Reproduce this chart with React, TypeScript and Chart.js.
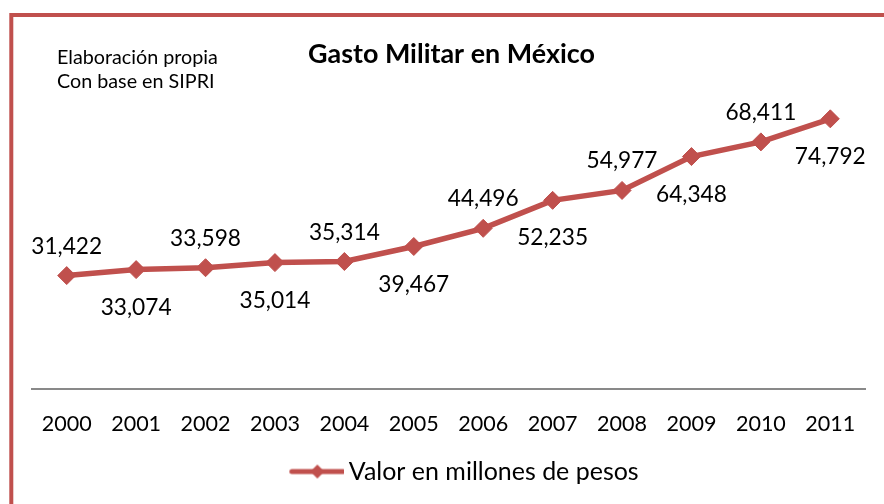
import React, { useEffect, useRef } from 'react';
import { Chart, registerables } from 'chart.js';

Chart.register(...registerables);

// ---- data ----
const years: string[] = ['2000', '2001', '2002', '2003', '2004', '2005', '2006', '2007', '2008', '2009', '2010', '2011'];
const values: number[] = [31422, 33074, 33598, 35014, 35314, 39467, 44496, 52235, 54977, 64348, 68411, 74792];
const seriesLabel = 'Valor en millones de pesos';
const chartTitle = 'Gasto Militar en México';
const noteLines: string[] = ['Elaboración propia', 'Con base en SIPRI'];
const yMin = 0;
const yMax = 80000;

const RED = '#c0504d';
const FONT = 'Lato';

function fitSize(text: string, weight: string, target: number): number {
  const c = document.createElement('canvas').getContext('2d') as CanvasRenderingContext2D;
  c.font = `${weight} 100px ${FONT}`;
  return (100 * target) / c.measureText(text).width;
}

const fmt = (v: number) => v.toLocaleString('en-US');

export default function App() {
  const ref = useRef<HTMLCanvasElement | null>(null);

  useEffect(() => {
    document.body.style.margin = '0';
    const canvas = ref.current;
    if (!canvas) return;

    const labelSize = fitSize('31,422', 'normal', 71);
    const tickSize = fitSize('2000', 'normal', 50);
    const legendSize = fitSize(seriesLabel, 'normal', 290);
    const titleSize = fitSize(chartTitle, 'bold', 287);
    const noteSize = fitSize(noteLines[0], 'normal', 161);

    // legend symbol: line with diamond, drawn in right part of a wider transparent image
    const img = document.createElement('canvas');
    img.width = 94;
    img.height = 18;
    const g = img.getContext('2d') as CanvasRenderingContext2D;
    const x0 = 39;
    g.strokeStyle = RED;
    g.lineWidth = 5;
    g.lineCap = 'round';
    g.beginPath();
    g.moveTo(x0 + 2.5, 9);
    g.lineTo(x0 + 53.5, 9);
    g.stroke();
    g.fillStyle = RED;
    g.beginPath();
    g.moveTo(x0 + 28, 2);
    g.lineTo(x0 + 35, 9);
    g.lineTo(x0 + 28, 16);
    g.lineTo(x0 + 21, 9);
    g.closePath();
    g.fill();

    const decor = {
      id: 'decor',
      beforeDraw(chart: any) {
        const ctx = chart.ctx as CanvasRenderingContext2D;
        ctx.save();
        ctx.fillStyle = '#ffffff';
        ctx.fillRect(0, 0, chart.width, chart.height);
        ctx.strokeStyle = RED;
        ctx.lineWidth = 4;
        ctx.strokeRect(11.3, 15, 1000, 1000);
        ctx.fillStyle = '#000000';
        ctx.textAlign = 'center';
        ctx.textBaseline = 'alphabetic';
        ctx.font = `bold ${titleSize}px ${FONT}`;
        ctx.fillText(chartTitle, 451.5, 62.5);
        ctx.textAlign = 'left';
        ctx.font = `normal ${noteSize}px ${FONT}`;
        ctx.fillText(noteLines[0], 57, 63.5);
        ctx.fillText(noteLines[1], 57, 87.5);
        ctx.restore();
      },
    };

    const dataLabels = {
      id: 'dataLabels',
      afterDatasetsDraw(chart: any) {
        const ctx = chart.ctx as CanvasRenderingContext2D;
        const meta = chart.getDatasetMeta(0);
        ctx.save();
        ctx.fillStyle = '#000000';
        ctx.textAlign = 'center';
        ctx.textBaseline = 'alphabetic';
        ctx.font = `normal ${labelSize}px ${FONT}`;
        meta.data.forEach((pt: any, i: number) => {
          const above = i % 2 === 0;
          ctx.fillText(fmt(values[i]), pt.x, pt.y + (above ? -22 : 45));
        });
        ctx.restore();
      },
    };

    const chart = new Chart(canvas, {
      type: 'line',
      data: {
        labels: years,
        datasets: [
          {
            label: seriesLabel,
            data: values,
            borderColor: RED,
            backgroundColor: RED,
            borderWidth: 5.5,
            pointStyle: 'rectRot',
            pointRadius: 9,
            pointHoverRadius: 9,
            pointBorderWidth: 1,
            pointBackgroundColor: RED,
            pointBorderColor: RED,
            tension: 0,
          },
        ],
      },
      options: {
        animation: false,
        responsive: false,
        events: [],
        layout: { padding: { left: 32, right: 19, top: 100, bottom: 10 } },
        scales: {
          x: {
            offset: true,
            grid: { display: true, drawOnChartArea: false, drawTicks: false },
            border: { display: true, color: '#898989', width: 2 },
            ticks: {
              color: '#000000',
              font: { family: FONT, size: tickSize },
              padding: 22,
              maxRotation: 0,
              autoSkip: false,
            },
            afterFit(scale: any) {
              scale.height -= 10;
            },
          },
          y: { display: false, min: yMin, max: yMax },
        },
        plugins: {
          legend: {
            position: 'bottom',
            labels: {
              usePointStyle: true,
              pointStyle: img as any,
              pointStyleWidth: 78,
              color: '#000000',
              font: { family: FONT, size: legendSize },
              padding: 10,
            },
          },
          title: { display: false },
          tooltip: { enabled: false },
        },
      },
      plugins: [decor, dataLabels],
    });

    return () => chart.destroy();
  }, []);

  return (
    <div style={{ width: 884, height: 504 }}>
      <canvas ref={ref} width={884} height={504} style={{ display: 'block', width: 884, height: 504 }} />
    </div>
  );
}
